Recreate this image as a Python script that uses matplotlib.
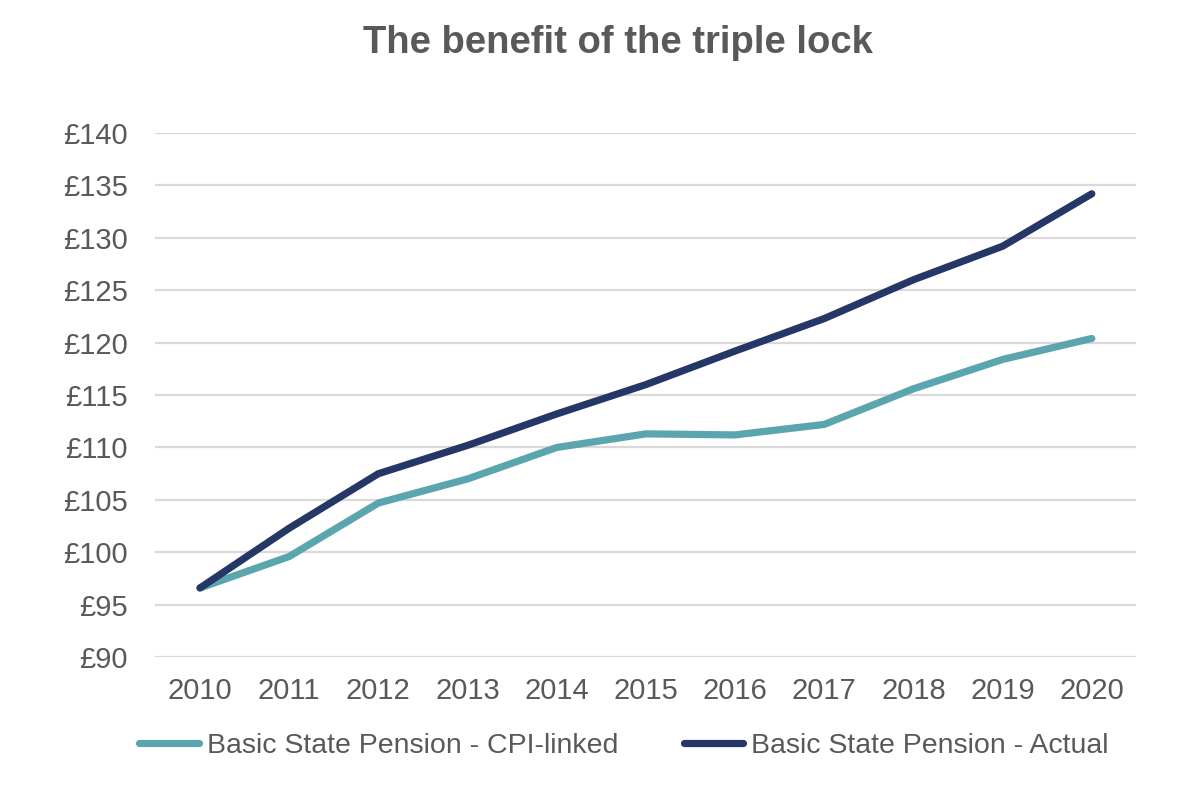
import matplotlib.pyplot as plt

# values (weekly £)
years = ['2010', '2011', '2012', '2013', '2014', '2015', '2016', '2017', '2018', '2019', '2020']
cpi_linked = [96.6, 99.6, 104.7, 107.0, 110.0, 111.3, 111.2, 112.2, 115.6, 118.4, 120.4]
actual = [96.6, 102.3, 107.5, 110.2, 113.2, 116.0, 119.2, 122.3, 126.0, 129.2, 134.2]
y_ticks = [90, 95, 100, 105, 110, 115, 120, 125, 130, 135, 140]

TEAL = '#5BA5AE'
NAVY = '#253766'
GREY_TXT = '#595959'

plt.rcParams['font.family'] = ['Liberation Sans', 'DejaVu Sans']

fig = plt.figure(figsize=(12, 7.87), dpi=100)
ax = fig.add_axes([0.1295, 0.165, 0.8175, 0.666])

x = list(range(len(years)))
ax.plot(x, cpi_linked, color=TEAL, lw=5.2, solid_capstyle='round', solid_joinstyle='round',
        label='Basic State Pension - CPI-linked', zorder=3)
ax.plot(x, actual, color=NAVY, lw=5.2, solid_capstyle='round', solid_joinstyle='round',
        label='Basic State Pension - Actual', zorder=4)

ax.set_xlim(-0.5, len(years) - 0.5)
ax.set_ylim(90, 140)
ax.set_xticks(x)
ax.set_xticklabels(years)
ax.set_yticks(y_ticks)
ax.set_yticklabels([f'£{v}' for v in y_ticks])

for s in ax.spines.values():
    s.set_visible(False)
ax.grid(axis='y', color='#D9D9D9', lw=1.6, zorder=0)
ax.set_axisbelow(True)
ax.tick_params(axis='both', length=0, labelsize=21, colors=GREY_TXT)
ax.tick_params(axis='x', pad=14)
ax.tick_params(axis='y', pad=20)

fig.text(0.515, 0.945, 'The benefit of the triple lock', ha='center', va='center',
         fontsize=27.5, fontweight='bold', color=GREY_TXT)

fig.legend(loc='center', bbox_to_anchor=(0.52, 0.052), ncol=2, frameon=False,
           fontsize=20.5, handlelength=2.1, handletextpad=0.28, columnspacing=2.3,
           labelcolor=GREY_TXT)

fig.savefig('out.png', dpi=100)
